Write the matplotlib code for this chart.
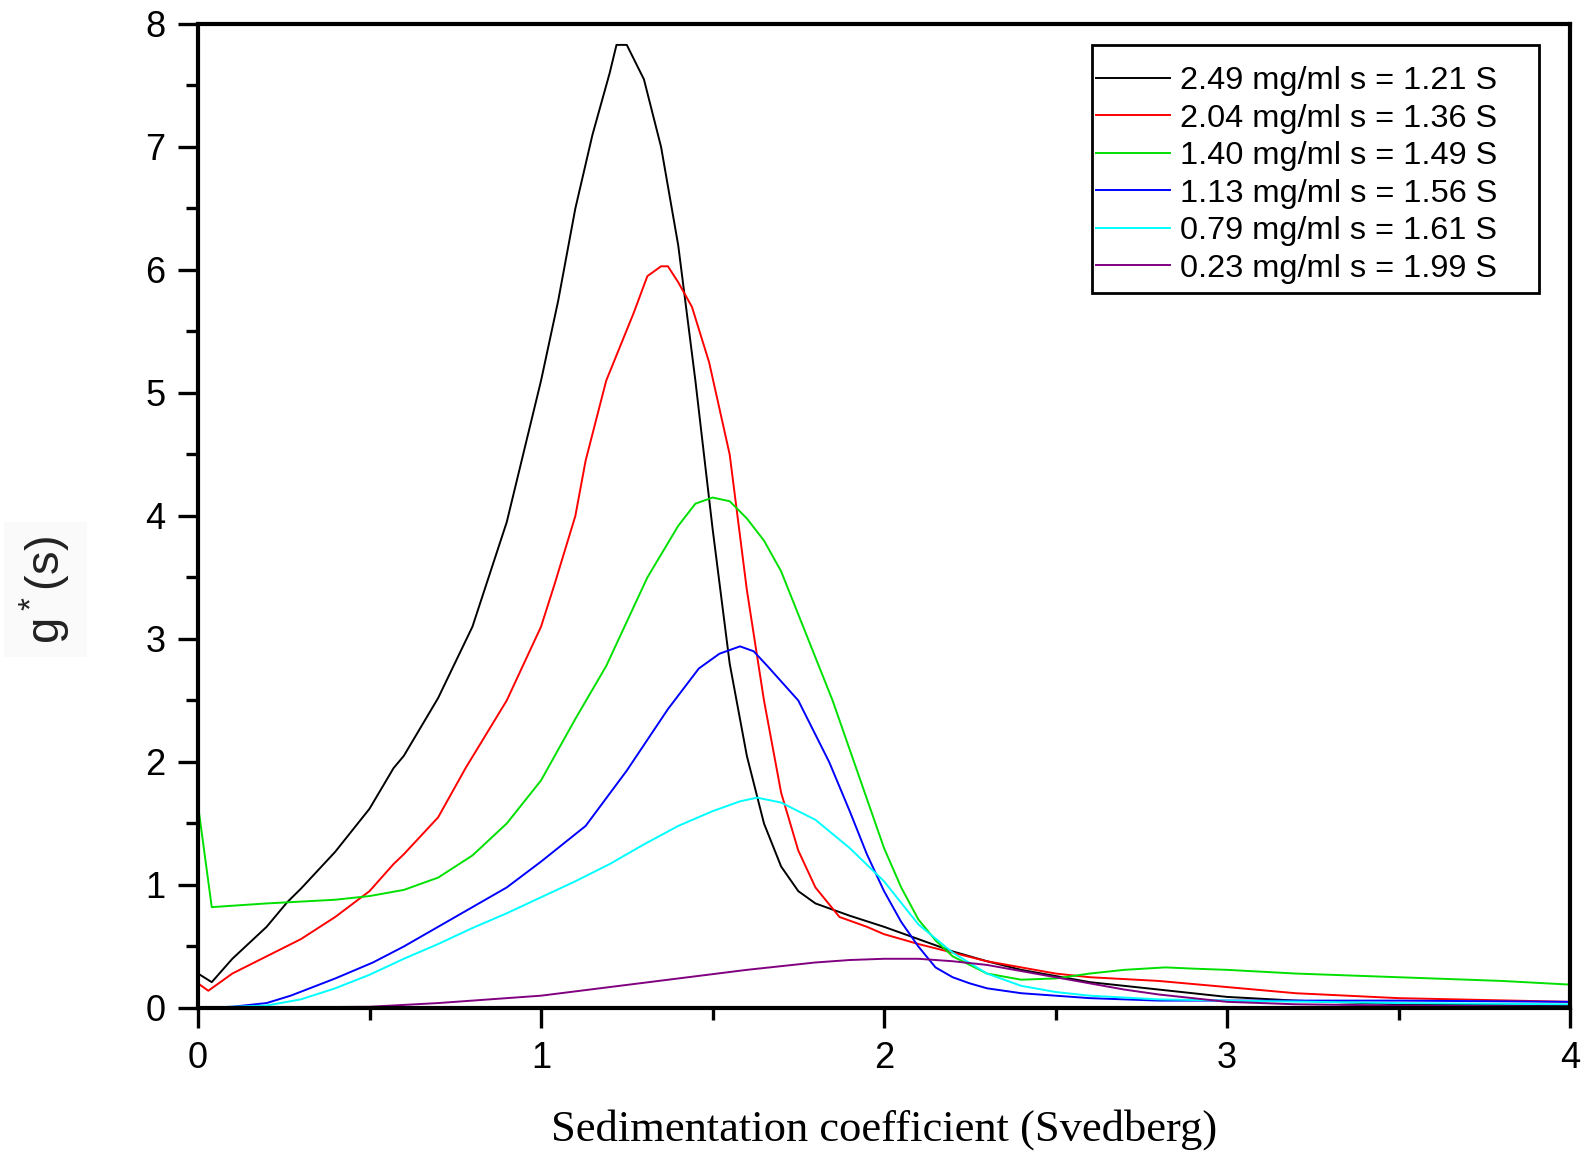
import matplotlib.pyplot as plt
from matplotlib.ticker import MultipleLocator
from matplotlib.patches import Rectangle

plt.rcParams['font.family'] = ['Liberation Sans', 'DejaVu Sans']
plt.rcParams['mathtext.fontset'] = 'custom'
plt.rcParams['mathtext.rm'] = 'Liberation Sans'

# g*(s) curves
s_black = [0.0, 0.04, 0.1, 0.2, 0.26, 0.3, 0.4, 0.5, 0.57, 0.6, 0.7, 0.8, 0.9, 1.0, 1.05, 1.1, 1.15,
           1.2, 1.22, 1.25, 1.3, 1.35, 1.4, 1.45, 1.5, 1.55, 1.6, 1.65, 1.7, 1.75, 1.8, 1.9,
           2.0, 2.1, 2.2, 2.3, 2.4, 2.5, 2.6, 2.8, 3.0, 3.2, 3.5, 4.0]
g_black = [0.28, 0.21, 0.40, 0.66, 0.86, 0.97, 1.27, 1.62, 1.95, 2.05, 2.52, 3.1, 3.95, 5.1, 5.75, 6.5, 7.1,
           7.6, 7.83, 7.83, 7.55, 7.0, 6.2, 5.1, 3.9, 2.8, 2.05, 1.5, 1.15, 0.95, 0.85, 0.75,
           0.66, 0.56, 0.46, 0.38, 0.31, 0.26, 0.21, 0.15, 0.09, 0.06, 0.03, 0.02]

s_red = [0.0, 0.03, 0.1, 0.2, 0.3, 0.4, 0.5, 0.57, 0.6, 0.7, 0.78, 0.9, 1.0, 1.04, 1.1, 1.13, 1.19, 1.27,
         1.31, 1.35, 1.37, 1.4, 1.44, 1.49, 1.55, 1.6, 1.65, 1.7, 1.75, 1.8, 1.87, 1.95,
         2.0, 2.1, 2.2, 2.3, 2.4, 2.5, 2.6, 2.8, 3.0, 3.2, 3.5, 4.0]
g_red = [0.2, 0.14, 0.28, 0.42, 0.56, 0.74, 0.95, 1.17, 1.25, 1.55, 1.95, 2.5, 3.1, 3.45, 4.0, 4.45, 5.1, 5.65,
         5.95, 6.03, 6.03, 5.9, 5.7, 5.25, 4.5, 3.4, 2.5, 1.75, 1.28, 0.98, 0.74, 0.66,
         0.6, 0.52, 0.45, 0.38, 0.33, 0.28, 0.25, 0.22, 0.17, 0.12, 0.08, 0.05]

s_green = [0.0, 0.04, 0.2, 0.4, 0.5, 0.6, 0.7, 0.8, 0.9, 1.0, 1.1, 1.19, 1.31, 1.4, 1.45, 1.5, 1.55,
           1.6, 1.65, 1.7, 1.75, 1.8, 1.85, 1.9, 1.95, 2.0, 2.05, 2.1, 2.15, 2.2, 2.3, 2.4,
           2.5, 2.6, 2.7, 2.82, 2.9, 3.0, 3.2, 3.5, 3.8, 4.0]
g_green = [1.65, 0.82, 0.85, 0.88, 0.91, 0.96, 1.06, 1.24, 1.5, 1.85, 2.35, 2.78, 3.5, 3.92, 4.1, 4.15, 4.12,
           3.98, 3.8, 3.55, 3.2, 2.85, 2.5, 2.1, 1.7, 1.3, 0.98, 0.72, 0.55, 0.42, 0.28, 0.23,
           0.24, 0.28, 0.31, 0.33, 0.32, 0.31, 0.28, 0.25, 0.22, 0.19]

s_blue = [0.0, 0.1, 0.2, 0.27, 0.4, 0.51, 0.6, 0.75, 0.9, 1.0, 1.13, 1.25, 1.37, 1.46, 1.52, 1.58, 1.62,
          1.66, 1.75, 1.84, 1.9, 1.95, 2.0, 2.05, 2.1, 2.15, 2.2, 2.25, 2.3, 2.4, 2.5, 2.6,
          2.8, 3.0, 3.2, 3.5, 4.0]
g_blue = [0.0, 0.01, 0.04, 0.1, 0.24, 0.37, 0.5, 0.74, 0.98, 1.19, 1.48, 1.93, 2.43, 2.76, 2.88, 2.94, 2.9,
          2.78, 2.5, 2.0, 1.6, 1.25, 0.95, 0.7, 0.5, 0.33, 0.25, 0.2, 0.16, 0.12, 0.1, 0.08,
          0.06, 0.06, 0.06, 0.06, 0.05]

s_cyan = [0.0, 0.2, 0.3, 0.4, 0.5, 0.6, 0.7, 0.8, 0.9, 1.0, 1.1, 1.2, 1.3, 1.4, 1.5, 1.58, 1.63,
          1.7, 1.8, 1.9, 2.0, 2.1, 2.2, 2.3, 2.4, 2.5, 2.6, 2.8, 3.0, 3.5, 4.0]
g_cyan = [0.0, 0.02, 0.07, 0.16, 0.27, 0.4, 0.52, 0.65, 0.77, 0.9, 1.03, 1.17, 1.33, 1.48, 1.6, 1.68, 1.71,
          1.67, 1.53, 1.3, 1.03, 0.68, 0.45, 0.28, 0.18, 0.13, 0.1, 0.07, 0.06, 0.04, 0.03]

s_purple = [0.0, 0.5, 0.7, 0.9, 1.0, 1.2, 1.4, 1.6, 1.8, 1.9, 2.0, 2.1, 2.2, 2.3, 2.4, 2.5, 2.6,
            2.7, 2.8, 2.9, 3.0, 3.2, 3.5, 4.0]
g_purple = [0.0, 0.01, 0.04, 0.08, 0.1, 0.17, 0.24, 0.31, 0.37, 0.39, 0.4, 0.4, 0.38, 0.35, 0.3, 0.25, 0.2,
            0.15, 0.11, 0.08, 0.05, 0.03, 0.02, 0.01]

labels = ['2.49 mg/ml s = 1.21 S', '2.04 mg/ml s = 1.36 S', '1.40 mg/ml s = 1.49 S',
          '1.13 mg/ml s = 1.56 S', '0.79 mg/ml s = 1.61 S', '0.23 mg/ml s = 1.99 S']
colors = ['black', '#ff0000', '#00e000', '#0000ff', '#00ffff', '#800080']

fig = plt.figure(figsize=(15.88, 11.59), dpi=100)
ax = fig.add_axes([0.1247, 0.1303, 0.8640, 0.8490])

series = [(s_black, g_black), (s_red, g_red), (s_green, g_green),
          (s_blue, g_blue), (s_cyan, g_cyan), (s_purple, g_purple)]
for (s, g), lab, c in zip(series, labels, colors):
    ax.plot(s, g, color=c, lw=1.4, label=lab)

ax.set_xlim(0, 4)
ax.set_ylim(0, 8)
ax.xaxis.set_major_locator(MultipleLocator(1))
ax.xaxis.set_minor_locator(MultipleLocator(0.5))
ax.yaxis.set_major_locator(MultipleLocator(1))
ax.yaxis.set_minor_locator(MultipleLocator(0.5))
ax.tick_params(which='major', direction='out', length=14.5, width=2.4, labelsize=26, pad=9)
ax.tick_params(which='minor', direction='out', length=8.5, width=2.4)
ax.tick_params(top=False, right=False)
for sp in ax.spines.values():
    sp.set_linewidth(3)

ax.set_xlabel('Sedimentation coefficient (Svedberg)', family='Liberation Serif', fontsize=32, labelpad=24)
ax.text(-0.111, 0.425, r'$\mathregular{g^*(s)}$', transform=ax.transAxes, rotation=90,
        ha='center', va='center', fontsize=34, color='#222222',
        bbox=dict(facecolor='#fafafa', edgecolor='none', pad=10))

# legend: lines start at the left border of the box, box drawn separately
leg = ax.legend(loc='center left', bbox_to_anchor=(0.6545, 0.8466), borderaxespad=0, borderpad=0,
                fontsize=23.4, frameon=False, handlelength=2.28, handletextpad=0.31,
                labelspacing=0.23)
ax.add_patch(Rectangle((0.6516, 0.7269), 0.9774 - 0.6516, 0.9791 - 0.7269, transform=ax.transAxes,
                       facecolor='none', edgecolor='black', lw=2, zorder=5))

fig.savefig('out.png', dpi=100)
